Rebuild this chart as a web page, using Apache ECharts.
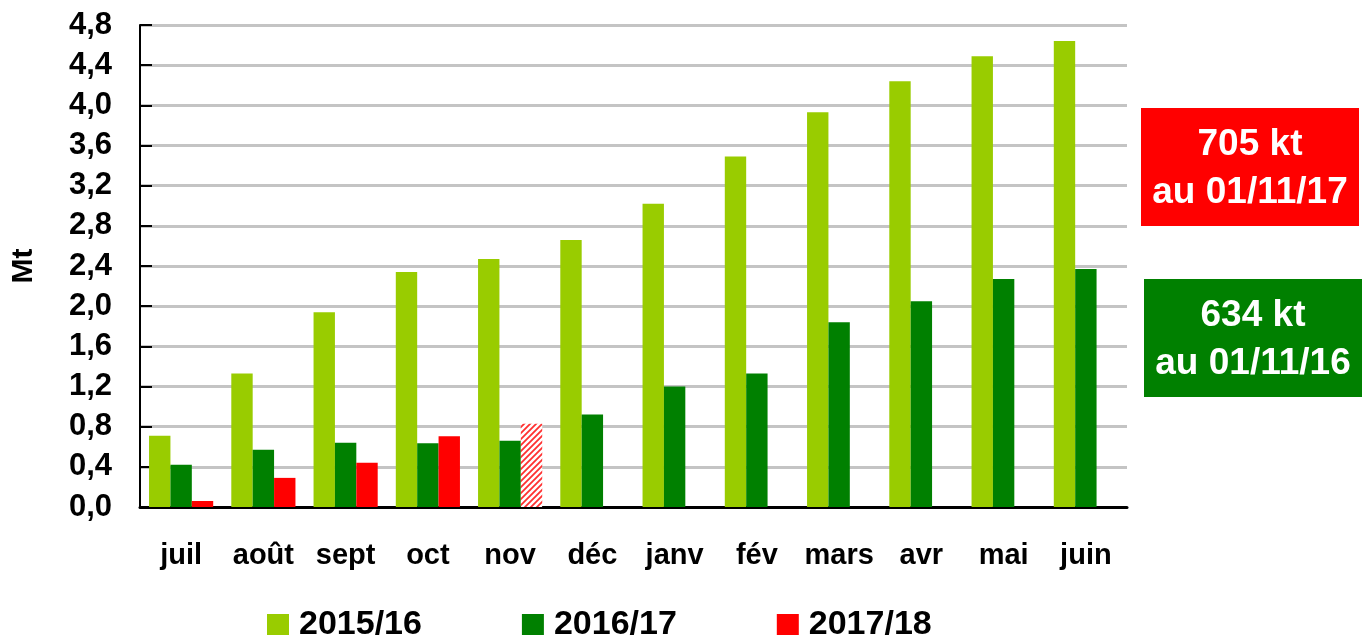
<!DOCTYPE html>
<html>
<head>
<meta charset="utf-8">
<script src="https://cdn.jsdelivr.net/npm/echarts@6/dist/echarts.min.js"></script>
<style>
  html, body { margin: 0; padding: 0; background: #fff; }
  #chart { width: 1362px; height: 635px; }
</style>
</head>
<body>
<div id="chart"></div>
<script>
// Monthly cumulative volumes (Mt), campaign July -> June
const months = ['juil', 'août', 'sept', 'oct', 'nov', 'déc', 'janv', 'fév', 'mars', 'avr', 'mai', 'juin'];
const season1516 = [0.71, 1.33, 1.94, 2.34, 2.47, 2.66, 3.02, 3.49, 3.93, 4.24, 4.49, 4.64];
const season1617 = [0.42, 0.57, 0.64, 0.634, 0.66, 0.92, 1.20, 1.33, 1.84, 2.05, 2.27, 2.37];
const season1718 = [0.06, 0.29, 0.44, 0.705, 0.83, null, null, null, null, null, null, null];
const estimatedIndex = 4; // November 2017/18 is an estimate (hatched)
const seriesNames = ['2015/16', '2016/17', '2017/18'];
const yTicks = [0, 0.4, 0.8, 1.2, 1.6, 2.0, 2.4, 2.8, 3.2, 3.6, 4.0, 4.4, 4.8];
const boxTexts = [['705 kt', 'au 01/11/17'], ['634 kt', 'au 01/11/16']];

const COL_LIGHT = '#99cc00';
const COL_DARK = '#008000';
const COL_RED = '#ff0000';

// Diagonal red hatch used for the estimated bar
function hatchPattern() {
  const c = document.createElement('canvas');
  c.width = 6; c.height = 6;
  const g = c.getContext('2d');
  g.fillStyle = '#ffffff';
  g.fillRect(0, 0, 6, 6);
  g.strokeStyle = '#ff3030';
  g.lineWidth = 1.8;
  g.beginPath();
  g.moveTo(-1, 7); g.lineTo(7, -1);
  g.moveTo(-4, 4); g.lineTo(4, -4);
  g.moveTo(2, 10); g.lineTo(10, 2);
  g.stroke();
  return c;
}

const redData = season1718.map((v, i) => i === estimatedIndex
  ? { value: v, itemStyle: { color: { image: hatchPattern(), repeat: 'repeat' } } }
  : v);

const FONT = '"Liberation Sans", Arial, sans-serif';
const chart = echarts.init(document.getElementById('chart'), null, { renderer: 'canvas' });

function infoBox(left, top, fill, lines) {
  const font = 'bold 37px ' + FONT;
  return {
    type: 'group', left: left, top: top,
    children: [
      { type: 'rect', shape: { x: 0, y: 0, width: 218, height: 118 }, style: { fill: fill } },
      { type: 'text', style: { x: 109, y: 37, text: lines[0], align: 'center', verticalAlign: 'middle', fill: '#fff', font: font } },
      { type: 'text', style: { x: 109, y: 85, text: lines[1], align: 'center', verticalAlign: 'middle', fill: '#fff', font: font } }
    ]
  };
}

chart.setOption({
  animation: false,
  backgroundColor: '#ffffff',
  grid: { left: 140, right: 235, top: 25, bottom: 128, containLabel: false, outerBoundsMode: 'none' },
  legend: {
    top: 603,
    left: 262,
    itemGap: 100,
    itemWidth: 22,
    itemHeight: 22,
    icon: 'rect',
    textStyle: { fontFamily: FONT, fontWeight: 'bold', fontSize: 34, color: '#000', padding: [0, 0, 0, 5] },
    data: seriesNames
  },
  xAxis: {
    type: 'category',
    data: months,
    axisLine: { lineStyle: { color: '#000', width: 3 } },
    axisTick: { show: false },
    axisLabel: { fontFamily: FONT, fontWeight: 'bold', fontSize: 29, color: '#000', margin: 34, interval: 0 }
  },
  yAxis: {
    type: 'value',
    min: 0,
    max: 4.8,
    interval: 0.4,
    name: 'Mt',
    nameLocation: 'middle',
    nameGap: 101,
    nameRotate: 90,
    nameTextStyle: { fontFamily: FONT, fontWeight: 'bold', fontSize: 30, color: '#000' },
    axisLine: { show: true, lineStyle: { color: '#000', width: 2 } },
    axisTick: { show: true, inside: true, length: 12, lineStyle: { color: '#000', width: 2 } },
    splitLine: { lineStyle: { color: '#c4c4c4', width: 3 } },
    axisLabel: {
      fontFamily: FONT, fontWeight: 'bold', fontSize: 31, color: '#000', margin: 28,
      formatter: v => {
        const t = yTicks.find(x => Math.abs(x - v) < 1e-6);
        return (t === undefined ? v : t).toFixed(1).replace('.', ',');
      }
    }
  },
  series: [
    { name: seriesNames[0], type: 'bar', data: season1516, itemStyle: { color: COL_LIGHT }, barGap: '0%', barCategoryGap: '22%' },
    { name: seriesNames[1], type: 'bar', data: season1617, itemStyle: { color: COL_DARK }, barGap: '0%', barCategoryGap: '22%' },
    { name: seriesNames[2], type: 'bar', data: redData, itemStyle: { color: COL_RED }, barGap: '0%', barCategoryGap: '22%' }
  ],
  graphic: [
    infoBox(1141, 108, COL_RED, boxTexts[0]),
    infoBox(1144, 279, COL_DARK, boxTexts[1])
  ]
});
</script>
</body>
</html>
